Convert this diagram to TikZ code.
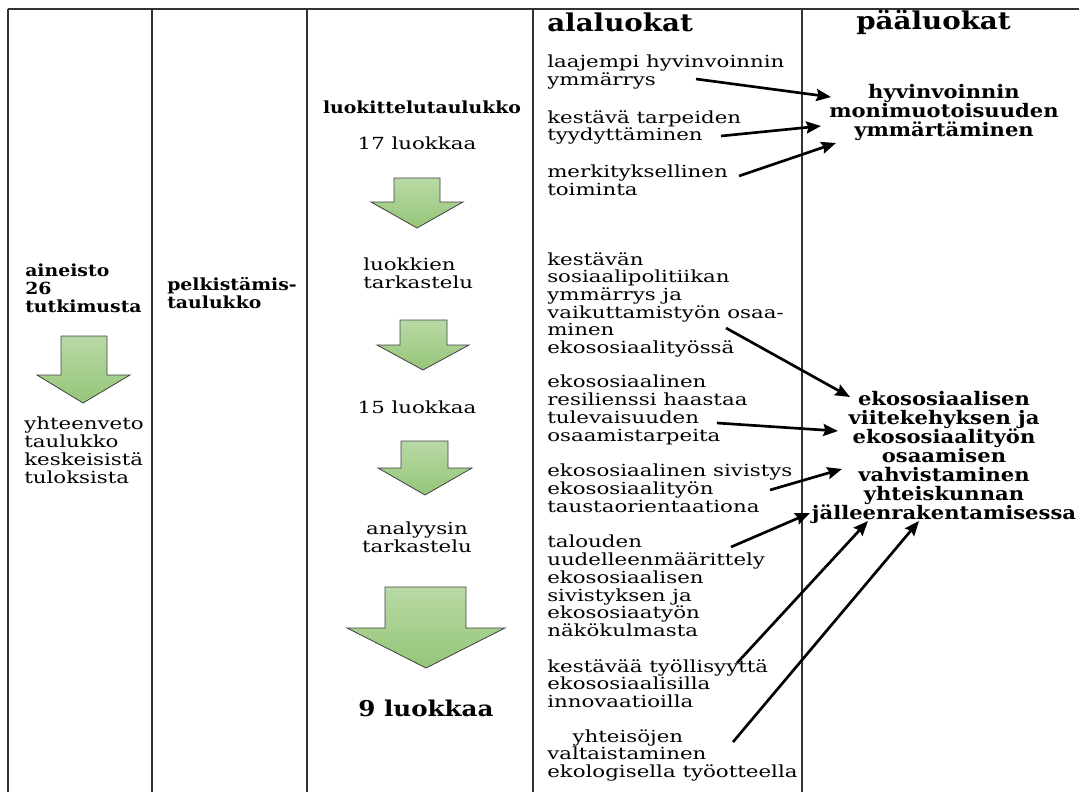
\documentclass[tikz,border=0pt]{standalone}
\usepackage{fontspec}
\setmainfont{DejaVu Serif}[FakeStretch=1.28]
\newfontfamily\heavyfont{DejaVu Serif}[FakeStretch=1.13]
\usetikzlibrary{arrows.meta}

\definecolor{arrowtop}{HTML}{B9D9A5}
\definecolor{arrowbottom}{HTML}{95C679}

\begin{document}
\begin{tikzpicture}[x=0.75pt, y=-0.75pt,
    txt/.style={inner sep=0pt, align=left, anchor=north west, font=\fontsize{12.5}{13.3}\selectfont},
    boldtxt/.style={txt, font=\fontsize{12.5}{13.3}\selectfont\heavyfont\bfseries},
    heading/.style={inner sep=0pt, anchor=west, font=\fontsize{18.4}{20}\selectfont\heavyfont\bfseries},
    mainclass/.style={inner sep=0pt, align=center, anchor=north, font=\fontsize{14}{14.2}\selectfont\heavyfont\bfseries},
    greenarrow/.style={draw=black!75, line width=0.6pt, top color=arrowtop, bottom color=arrowbottom},
    conn/.style={-{Stealth[length=11pt, width=9pt, inset=1.5pt]}, line width=2pt}]
                \useasboundingbox (0,0) rectangle (1079,792);

                % Table lines
                \draw[line width=1.3pt, black!80] (8,9) -- (1079,9);
                \draw[line width=1.3pt, black!80] (8,9) -- (8,792) (152,9) -- (152,792)
                    (307,9) -- (307,792) (533,9) -- (533,792) (802,9) -- (802,792);

                % Column 1
                \node[boldtxt] (aineisto) at (25,264) {aineisto\\26\\tutkimusta};
                \draw[greenarrow] (61,336) -- (107,336) -- (107,375) -- (130,375) -- (83,403)
                    -- (37,375) -- (61,375) -- cycle;
                \node[txt] (yhteenveto) at (24,417) {yhteenveto\\taulukko\\keskeisistä\\tuloksista};

                % Column 2
                \node[boldtxt] (pelkistys) at (167,277) {pelkistämis-\\taulukko};

                % Column 3
                \node[boldtxt, anchor=center] (luokittelu) at (422,107) {luokittelutaulukko};
                \node[txt, anchor=center] (luokat17) at (417,143) {17 luokkaa};
                \draw[greenarrow] (394,178) -- (440,178) -- (440,202) -- (463,202) -- (417,228)
                    -- (371,202) -- (394,202) -- cycle;
                \node[txt] (tarkastelu) at (363,258) {luokkien\\tarkastelu};
                \draw[greenarrow] (400,320) -- (447,320) -- (447,345) -- (469,345) -- (423,370)
                    -- (377,345) -- (400,345) -- cycle;
                \node[txt, anchor=center] (luokat15) at (417,407) {15 luokkaa};
                \draw[greenarrow] (401,441) -- (448,441) -- (448,468) -- (472,468) -- (425,495)
                    -- (378,468) -- (401,468) -- cycle;
                \node[txt, align=center, anchor=north] (analyysi) at (417,522) {analyysin\\tarkastelu};
                \draw[greenarrow] (385,587) -- (466,587) -- (466,628) -- (505,628) -- (426,668)
                    -- (347,628) -- (385,628) -- cycle;
                \node[inner sep=0pt, font=\fontsize{16.3}{18}\selectfont\heavyfont\bfseries] (luokat9) at (426,708) {9 luokkaa};

                % Column 4: sub-categories
                \node[heading] (alaluokat) at (547,22) {alaluokat};
                \node[txt] (laajempi) at (547,55) {laajempi hyvinvoinnin\\ymmärrys};
                \node[txt] (tarpeet) at (547,110) {kestävä tarpeiden\\tyydyttäminen};
                \node[txt] (toiminta) at (547,165) {merkityksellinen\\toiminta};
                \node[txt] (sospol) at (547,252) {kestävän\\sosiaalipolitiikan\\ymmärrys ja\\vaikuttamistyön osaa-\\minen\\ekososiaalityössä};
                \node[txt] (resilienssi) at (547,375) {ekososiaalinen\\resilienssi haastaa\\tulevaisuuden\\osaamistarpeita};
                \node[txt] (sivistys) at (547,464) {ekososiaalinen sivistys\\ekososiaalityön\\taustaorientaationa};
                \node[txt] (talous) at (547,535) {talouden\\uudelleenmäärittely\\ekososiaalisen\\sivistyksen ja\\ekososiaatyön\\näkökulmasta};
                \node[txt] (tyollisyys) at (547,659) {kestävää työllisyyttä\\ekososiaalisilla\\innovaatioilla};
                \node[txt] (yhteisot) at (547,729) {\hspace*{19pt}yhteisöjen\\valtaistaminen\\ekologisella työotteella};

                % Column 5: main categories
                \node[heading] (paaluokat) at (856,22) {pääluokat};
                \node[mainclass] (hyvinvointi) at (944,84) {hyvinvoinnin\\monimuotoisuuden\\ymmärtäminen};
                \node[mainclass] (viitekehys) at (944,391) {ekososiaalisen\\viitekehyksen ja\\ekososiaalityön\\osaamisen\\vahvistaminen\\yhteiskunnan\\jälleenrakentamisessa};

                % Arrow ends
                \coordinate (a1s) at (696,79);  \coordinate (a1e) at (831,97);
                \coordinate (a2s) at (721,136); \coordinate (a2e) at (821,126);
                \coordinate (a3s) at (739,176); \coordinate (a3e) at (836,143);
                \coordinate (a4s) at (726,328); \coordinate (a4e) at (850,397);
                \coordinate (a5s) at (717,423); \coordinate (a5e) at (838,431);
                \coordinate (a6s) at (770,490); \coordinate (a6e) at (842,469);
                \coordinate (a7s) at (731,547); \coordinate (a7e) at (810,513);
                \coordinate (a8s) at (737,663); \coordinate (a8e) at (868,521);
                \coordinate (a9s) at (733,742); \coordinate (a9e) at (919,521);

                % Arrows
                \draw[conn] (a1s) -- (a1e);
                \draw[conn] (a2s) -- (a2e);
                \draw[conn] (a3s) -- (a3e);
                \draw[conn] (a4s) -- (a4e);
                \draw[conn] (a5s) -- (a5e);
                \draw[conn] (a6s) -- (a6e);
                \draw[conn] (a7s) -- (a7e);
                \draw[conn] (a8s) -- (a8e);
                \draw[conn] (a9s) -- (a9e);
            \end{tikzpicture}
\end{document}
